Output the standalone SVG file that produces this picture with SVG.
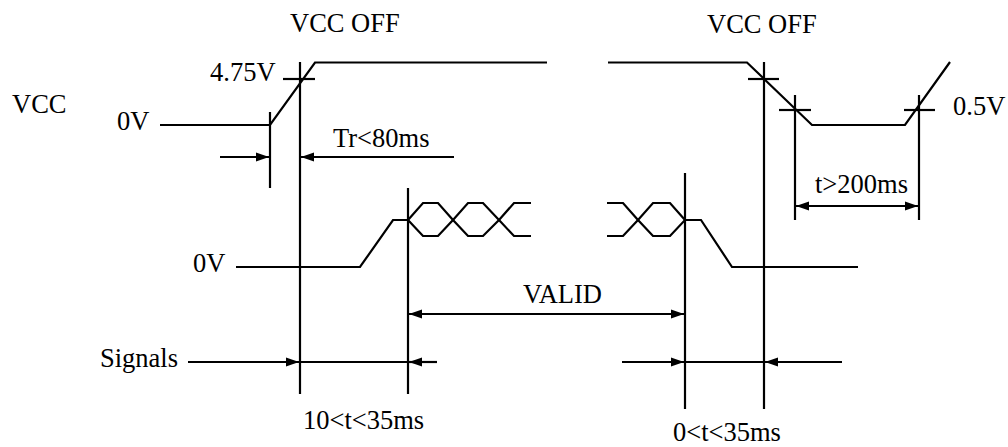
<svg xmlns="http://www.w3.org/2000/svg" width="1008" height="447" viewBox="0 0 1008 447">
<style>
.w{fill:none;stroke:#000;stroke-width:2.2;stroke-linejoin:miter}
.l{stroke:#000;stroke-width:2.2;fill:none}
.a{stroke:#000;stroke-width:2.2;fill:none;marker-end:url(#ah)}
.b{stroke:#000;stroke-width:2.2;fill:none;marker-end:url(#ah);marker-start:url(#ahs)}
text{font-family:"Liberation Serif","Times New Roman",serif;font-size:26.5px;fill:#000}
</style>
<defs>
<marker id="ah" markerUnits="userSpaceOnUse" markerWidth="14" markerHeight="10" refX="13" refY="5" orient="auto" viewBox="0 0 14 10"><path d="M0,0.5 L13,5 L0,9.5 z" fill="#000"/></marker>
<marker id="ahs" markerUnits="userSpaceOnUse" markerWidth="14" markerHeight="10" refX="13" refY="5" orient="auto-start-reverse" viewBox="0 0 14 10"><path d="M0,0.5 L13,5 L0,9.5 z" fill="#000"/></marker>
</defs>
<rect width="1008" height="447" fill="#fff"/>
<g id="waveforms">
<polyline class="w" points="160,125 270,125 315,62.5 547,62.5"/>
<polyline class="w" points="608,62.5 747,62.5 812,125 905,125 950,62"/>
<polyline class="w" points="236,267 360,267 393,220 408,220"/>
<polyline class="w" points="408,220 423,203 438,203 453,220 468,236 483,236 499,220 514,203 531,203"/>
<polyline class="w" points="408,220 423,236 438,236 453,220 468,203 483,203 499,220 514,236 531,236"/>
<polyline class="w" points="607,203 623,203 638,220 653,236 670,236 685,220 701,220 732,267 858,267"/>
<polyline class="w" points="607,236 623,236 638,220 653,203 670,203 685,220"/>
</g>
<g id="ticks">
<line class="l" x1="270" y1="112" x2="270" y2="188"/>
<line class="l" x1="300" y1="62" x2="300" y2="394"/>
<line class="l" x1="408" y1="188" x2="408" y2="394"/>
<line class="l" x1="685" y1="173" x2="685" y2="409"/>
<line class="l" x1="764" y1="62" x2="764" y2="409"/>
<line class="l" x1="795" y1="95" x2="795" y2="220"/>
<line class="l" x1="919" y1="95" x2="919" y2="220"/>
<line class="l" x1="283" y1="79" x2="315" y2="79"/>
<line class="l" x1="748" y1="79" x2="779" y2="79"/>
<line class="l" x1="779" y1="110" x2="811" y2="110"/>
<line class="l" x1="904" y1="110" x2="935" y2="110"/>
</g>
<g id="connectors">
<line class="a" x1="220" y1="157" x2="269" y2="157"/>
<line class="a" x1="454" y1="157" x2="301" y2="157"/>
<line class="b" x1="796" y1="206" x2="918" y2="206"/>
<line class="b" x1="409" y1="314" x2="684" y2="314"/>
<line class="a" x1="188" y1="362" x2="299" y2="362"/>
<line class="l" x1="299" y1="362" x2="408" y2="362"/>
<line class="a" x1="437" y1="362" x2="409" y2="362"/>
<line class="a" x1="622" y1="362" x2="684" y2="362"/>
<line class="l" x1="684" y1="362" x2="764" y2="362"/>
<line class="a" x1="842" y1="362" x2="765" y2="362"/>
</g>
<g id="labels">
<text x="12" y="113">VCC</text>
<text x="117" y="130">0V</text>
<text x="210" y="81">4.75V</text>
<text x="290" y="32">VCC OFF</text>
<text x="707" y="33">VCC OFF</text>
<text x="333" y="147">Tr&lt;80ms</text>
<text x="953" y="115">0.5V</text>
<text x="815" y="193">t&gt;200ms</text>
<text x="193" y="272">0V</text>
<text x="523" y="303">VALID</text>
<text x="100" y="367">Signals</text>
<text x="303" y="429">10&lt;t&lt;35ms</text>
<text x="673" y="441">0&lt;t&lt;35ms</text>
</g>
</svg>
